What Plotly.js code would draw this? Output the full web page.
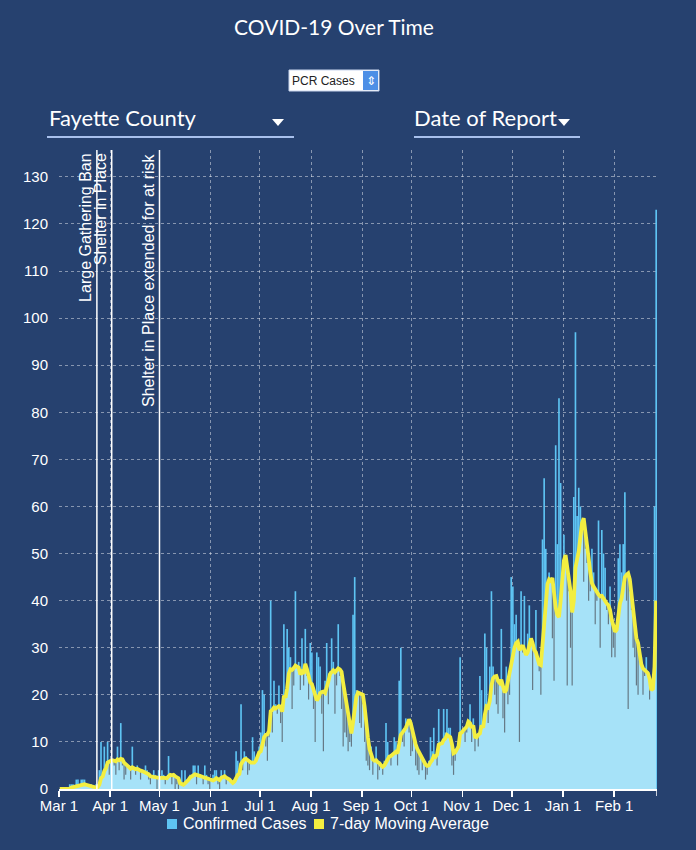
<!DOCTYPE html>
<html>
<head>
<meta charset="utf-8">
<script src="https://cdn.plot.ly/plotly-3.0.1.min.js"></script>
<style>
html,body{margin:0;padding:0;background:#26416f;}
#chart{width:696px;height:850px;}
</style>
</head>
<body>
<div id="chart"></div>
<script>
// ---- Data ----
const monthStarts = ['2020-03','2020-04','2020-05','2020-06','2020-07','2020-08','2020-09','2020-10','2020-11','2020-12','2021-01','2021-02'];
const tickLabels = ['Mar 1','Apr 1','May 1','Jun 1','Jul 1','Aug 1','Sep 1','Oct 1','Nov 1','Dec 1','Jan 1','Feb 1'];

// Daily confirmed cases, one array per month
const mar20 = [0,0,0,0,0,0,1,1,1,0, 2,2,1,2,2,2,1,0,0,1, 0,0,1,1,4,10,3,9,4,10,3];
const apr20 = [5,6,5,3,9,4,14,5,2,3, 4,5,2,9,4,3,5,4,2,4, 3,5,4,2,1,2,4,3,0,4];
const may20 = [2,4,3,1,2,7,2,1,2,0, 1,0,1,4,1,4,2,1,3,2, 5,5,1,5,3,2,1,5,3,1,0];
const jun20 = [1,3,4,4,1,0,4,2,4,1, 2,1,1,1,2,8,6,3,18,4, 8,7,3,4,6,11,8,5,7,9];
const jul20 = [12,21,20,9,6,11,40,12,23,18, 16,22,14,10,35,20,34,30,28,17, 22,42,25,27,21,32,22,34,24,19, 31];
const aug20 = [29,17,10,29,28,26,16,8,23,31, 18,25,32,27,16,22,35,24,17,9, 12,11,8,10,9,37,45,21,20,14, 13];
const sep20 = [18,10,6,5,4,9,3,6,9,2, 4,5,3,6,14,10,7,5,7,11, 10,5,23,30,10,9,15,13,12,7];
const oct20 = [8,10,5,4,3,6,4,6,2,3, 6,11,8,13,6,5,17,10,9,17, 12,17,13,13,5,3,6,9,10,28, 12];
const nov20 = [13,10,12,14,18,10,15,8,11,9, 24,21,12,33,30,14,26,42,26,20, 18,16,22,34,15,12,26,18,20,45];
const dec20 = [43,35,37,30,10,42,29,41,28,33, 39,32,21,30,38,27,25,20,53,66, 51,40,46,44,32,23,73,52,83,65, 44];
const jan21 = [54,48,22,42,30,22,62,97,58,64, 60,55,44,51,48,40,42,51,46,35, 40,57,30,55,50,47,38,35,43,28, 30];
const feb21 = [28,35,49,52,46,52,63,40,17,42, 38,30,28,22,20,29,28,20,24,28, 25,19,20,21,60,123];

// 7-day moving average, one array per month
const maMar20 = [0,0,0,0,0,0,0.1,0.3,0.4,0.4, 0.6,0.8,0.8,0.9,1.0,1.0,0.9,0.8,0.7,0.6, 0.4,0.3,0.3,0.4,0.9,2.3,2.6,3.8,4.4,5.6,5.9];
const maApr20 = [6.0,6.1,6.1,5.9,6.3,6.1,6.4,6.3,5.6,5.2, 4.9,4.6,4.3,4.6,4.4,4.2,4.3,4.0,3.9,3.8, 3.6,3.6,3.4,3.1,2.7,2.6,2.6,2.5,2.4,2.3];
const maMay20 = [2.3,2.4,2.3,2.4,2.3,2.7,3.0,2.9,3.0,2.7, 2.4,2.3,1.2,1.0,0.9,1.2,1.5,1.9,2.4,2.8, 2.9,3.1,2.9,2.9,2.8,2.6,2.6,2.4,2.3,2.2,2.0];
const maJun20 = [1.9,1.8,2.0,2.3,2.1,1.9,2.4,2.6,2.7,2.4, 2.3,2.0,1.6,1.3,1.6,2.4,3.0,3.2,5.3,5.8, 6.3,6.4,6.1,5.7,5.6,5.6,5.6,6.0,6.8,7.8];
const maJul20 = [8.0,9.5,11.0,11.5,11.6,12.3,16.5,16.8,17.3,17.1, 17.5,17.6,17.5,16.4,19.8,19.4,21.4,24.5,25.4,25.3, 25.7,26.2,26.0,25.8,24.3,24.9,24.5,26.6,25.5,23.8, 22.6];
const maAug20 = [22.3,21.0,19.5,18.8,19.3,20.4,20.6,20.7,20.4,21.5, 22.8,24.4,25.0,25.2,24.8,25.2,25.6,25.4,24.9,22.5, 20.2,18.6,15.8,13.0,11.8,14.2,17.5,19.6,20.5,20.3, 20.3];
const maSep20 = [20.0,17.5,13.0,11.0,8.5,7.5,6.3,6.0,6.1,5.7, 5.5,5.0,4.7,5.0,5.6,6.3,6.9,7.0,7.4,7.8, 7.9,7.6,9.8,11.5,12.0,12.4,13.0,13.8,14.8,14.0];
const maOct20 = [12.5,10.5,9.5,8.5,7.8,7.0,6.2,5.8,5.2,4.9, 5.0,5.7,6.1,7.0,6.8,7.3,9.4,9.6,9.7,10.4, 10.7,11.5,11.3,11.0,9.6,7.6,7.8,8.5,9.0,11.8, 12.0];
const maNov20 = [12.5,12.8,13.2,14.3,14.0,13.0,13.5,11.1,11.0,11.5, 11.8,13.5,13.0,15.8,17.5,17.3,18.7,22.0,23.5,23.9, 24.0,22.9,22.5,23.2,21.5,20.5,21.0,23.0,24.5,27.0];
const maDec20 = [28.5,30.0,31.0,31.3,29.5,30.2,30.5,29.5,28.5,29.0, 31.0,32.0,31.0,29.5,29.0,27.5,26.5,26.3,30.5,35.5, 40.0,43.5,44.5,44.2,44.8,41.5,38.5,37.0,36.5,40.0, 45.0];
const maJan21 = [48.5,49.7,47.5,45.0,42.0,37.5,40.0,47.0,48.5,50.5, 53.5,56.5,57.5,55.0,52.0,49.0,46.0,43.7,43.0,42.3, 41.8,41.3,40.9,41.0,40.5,39.8,39.4,39.0,38.0,36.0, 34.5];
const maFeb21 = [33.4,33.8,36.5,39.4,40.5,42.5,45.0,45.5,45.8,44.5, 41.0,37.0,34.0,32.0,31.0,28.5,26.5,25.6,25.2,24.8, 24.6,23.4,21.0,21.3,26.0,40.0];

// Policy events
const eventDates = ['2020-03-24','2020-04-02','2020-05-01'];
const eventLabels = ['Large Gathering Ban','Shelter in Place','Shelter in Place extended for at risk'];

// Legend entries
const legendNames = ['Confirmed Cases','7-day Moving Average'];

const axisStart = '2020-03-01';
const axisEnd = '2021-02-27';

// ---- Assemble ----
const casesByMonth = [mar20,apr20,may20,jun20,jul20,aug20,sep20,oct20,nov20,dec20,jan21,feb21];
const maByMonth = [maMar20,maApr20,maMay20,maJun20,maJul20,maAug20,maSep20,maOct20,maNov20,maDec20,maJan21,maFeb21];
const pad = n => (n < 10 ? '0' : '') + n;
const days = [], mids = [], cases = [], ma = [];
monthStarts.forEach((m, i) => {
  casesByMonth[i].forEach((v, j) => {
    days.push(m + '-' + pad(j + 1));
    mids.push(m + '-' + pad(j + 1) + ' 12:00');
    cases.push(v);
    ma.push(maByMonth[i][j]);
  });
});
const tickVals = monthStarts.map(m => m + '-01');

// grey gap segments where the day's count sits below the average
const gx = [], gy = [];
cases.forEach((v, i) => {
  if (v < ma[i] - 1) { gx.push(mids[i], mids[i], null); gy.push(v, ma[i], null); }
});

// ---- Layout geometry helpers (pixel -> paper) ----
const W = 696, H = 850, L = 59, R = 39, T = 150, B = 61;
const PW = W - L - R, PH = H - T - B;
const px = x => (x - L) / PW;
const py = y => (H - B - y) / PH;

const BG = '#26416f';
const BAR = '#5ec4f3';
const AREA = '#a6e2f8';
const YEL = '#f3ee40';
const GRID = 'rgba(255,255,255,0.45)';
const SANS = 'Liberation Sans, Arial, Helvetica, sans-serif';

const traces = [
  { type: 'bar', name: legendNames[0], x: days, y: cases,
    offset: 0, width: 86400000, marker: { color: BAR, line: { width: 0 } }, hoverinfo: 'skip', showlegend: false },
  { type: 'scatter', mode: 'lines', x: mids, y: ma, fill: 'tozeroy', fillcolor: AREA,
    line: { width: 0, color: AREA }, showlegend: false, hoverinfo: 'skip' },
  { type: 'scatter', mode: 'lines', x: gx, y: gy, line: { width: 1.2, color: 'rgba(85,95,105,0.8)' },
    showlegend: false, hoverinfo: 'skip', connectgaps: false },
  { type: 'scatter', mode: 'lines', name: legendNames[1], x: mids, y: ma, line: { width: 3.8, color: YEL },
    showlegend: false, hoverinfo: 'skip' }
];

const shapes = [];
const annotations = [];
eventDates.forEach((d, i) => {
  shapes.push({ type: 'line', xref: 'x', yref: 'paper', x0: d, x1: d, y0: 0, y1: 1,
    line: { color: 'white', width: 1.5 } });
  annotations.push({ text: eventLabels[i], xref: 'x', yref: 'paper', x: d, y: 1,
    xanchor: 'right', yanchor: 'top', textangle: -90, showarrow: false, xshift: -1, yshift: -1,
    font: { family: SANS, size: 16, color: 'white' } });
});
// end-of-axis tick
shapes.push({ type: 'line', xref: 'x', yref: 'paper', x0: axisEnd, x1: axisEnd, y0: 0, y1: py(796),
  line: { color: 'white', width: 1.5 } });

// header controls
shapes.push({ type: 'rect', xref: 'paper', yref: 'paper', x0: px(289), x1: px(379), y0: py(91), y1: py(70),
  fillcolor: 'white', line: { color: '#c9d6ee', width: 1 } });
shapes.push({ type: 'rect', xref: 'paper', yref: 'paper', x0: px(363), x1: px(378), y0: py(90), y1: py(71),
  fillcolor: '#4d8fe6', line: { width: 0 } });
shapes.push({ type: 'line', xref: 'paper', yref: 'paper', x0: px(47), x1: px(294), y0: py(137), y1: py(137),
  line: { color: '#a8c0ec', width: 2 } });
shapes.push({ type: 'line', xref: 'paper', yref: 'paper', x0: px(414), x1: px(580), y0: py(137), y1: py(137),
  line: { color: '#a8c0ec', width: 2 } });
const tri = (cx, cy) => 'M' + px(cx - 6) + ',' + py(cy - 3) + ' L' + px(cx + 6) + ',' + py(cy - 3) +
  ' L' + px(cx) + ',' + py(cy + 4) + ' Z';
shapes.push({ type: 'path', xref: 'paper', yref: 'paper', path: tri(278, 122), fillcolor: 'white', line: { width: 0 } });
shapes.push({ type: 'path', xref: 'paper', yref: 'paper', path: tri(564, 122), fillcolor: 'white', line: { width: 0 } });

annotations.push({ text: 'PCR Cases', xref: 'paper', yref: 'paper', x: px(290), y: py(81),
  xanchor: 'left', yanchor: 'middle', showarrow: false, font: { family: SANS, size: 12, color: '#222' } });
annotations.push({ text: '⇕', xref: 'paper', yref: 'paper', x: px(370.5), y: py(80.5),
  xanchor: 'center', yanchor: 'middle', showarrow: false, font: { family: 'DejaVu Sans', size: 12, color: 'white' } });
annotations.push({ text: 'Fayette County', xref: 'paper', yref: 'paper', x: px(47), y: py(118),
  xanchor: 'left', yanchor: 'middle', showarrow: false, font: { family: 'Lato', size: 22, color: 'white' } });
annotations.push({ text: 'Date of Report', xref: 'paper', yref: 'paper', x: px(412), y: py(118),
  xanchor: 'left', yanchor: 'middle', showarrow: false, font: { family: 'Lato', size: 22, color: 'white' } });

// legend (swatch + label)
const legendColors = [BAR, YEL];
const legendSwatchX = [167, 314];
legendNames.forEach((n, i) => {
  shapes.push({ type: 'rect', xref: 'paper', yref: 'paper',
    x0: px(legendSwatchX[i]), x1: px(legendSwatchX[i] + 10), y0: py(829), y1: py(819),
    fillcolor: legendColors[i], line: { width: 0 } });
  annotations.push({ text: n, xref: 'paper', yref: 'paper', x: px(legendSwatchX[i] + 14), y: py(824),
    xanchor: 'left', yanchor: 'middle', showarrow: false, font: { family: SANS, size: 16, color: 'white' } });
});

const layout = {
  width: W, height: H,
  margin: { l: L, r: R, t: T, b: B, pad: 0, autoexpand: false },
  paper_bgcolor: BG, plot_bgcolor: BG,
  title: { text: 'COVID-19 Over Time', xref: 'container', yref: 'container',
    x: 334 / W, xanchor: 'center', y: 1 - 28 / H, yanchor: 'middle',
    font: { family: 'Lato', size: 21, color: 'white' } },
  showlegend: false,
  barmode: 'overlay',
  hovermode: false,
  xaxis: { type: 'date', range: [axisStart, axisEnd], tickmode: 'array', tickvals: tickVals, ticktext: tickLabels,
    ticks: 'outside', ticklen: 6, tickwidth: 1.5, tickcolor: 'white', ticklabelstandoff: -4,
    showline: true, linecolor: 'white', linewidth: 2,
    showgrid: true, gridcolor: GRID, griddash: 'dot', gridwidth: 1, zeroline: false,
    tickfont: { family: SANS, size: 15, color: 'white' }, fixedrange: true },
  yaxis: { range: [0, 135.7], tick0: 0, dtick: 10, showgrid: true, gridcolor: GRID, griddash: 'dot', gridwidth: 1,
    zeroline: false, showline: false, ticks: '', ticklabelstandoff: 10,
    tickfont: { family: SANS, size: 15, color: 'white' }, fixedrange: true },
  shapes: shapes,
  annotations: annotations
};

Plotly.newPlot('chart', traces, layout, { displayModeBar: false, staticPlot: true });
</script>
</body>
</html>
